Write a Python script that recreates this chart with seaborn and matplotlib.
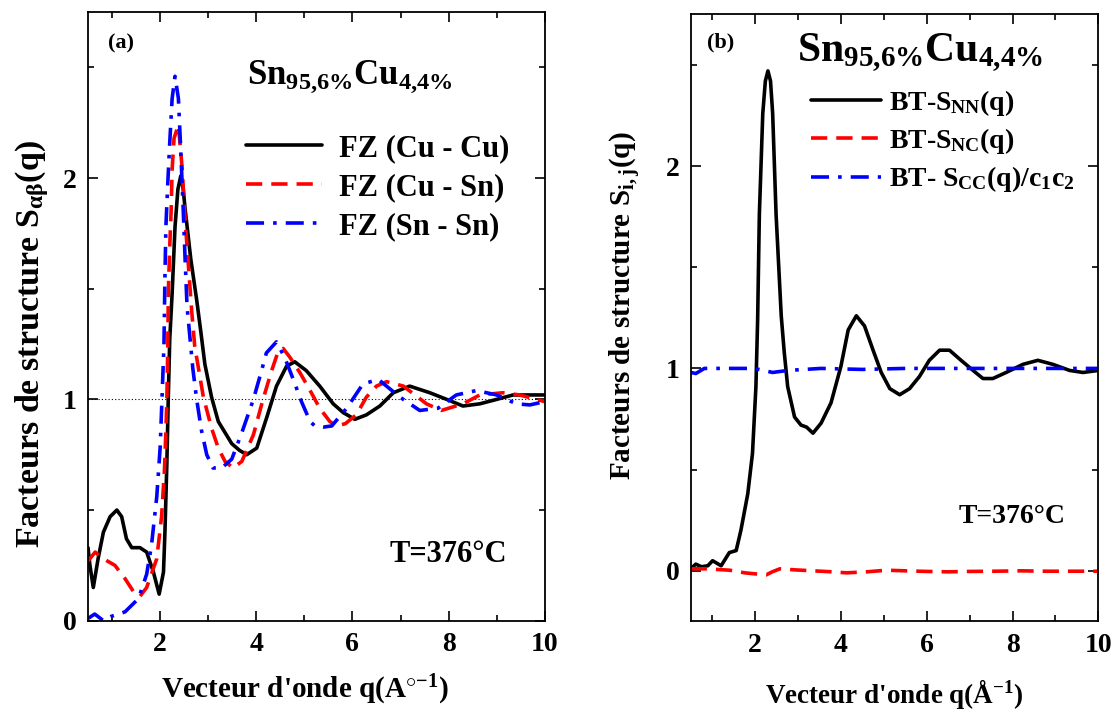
import numpy as np
import pandas as pd
import matplotlib
matplotlib.use("Agg")
import matplotlib.pyplot as plt
import seaborn as sns
from matplotlib.ticker import MultipleLocator

# ---- panel (a): Faber-Ziman partial structure factors ----
q_cucu = [0.5, 0.54, 0.61, 0.71, 0.82, 0.96, 1.1, 1.2, 1.3, 1.41, 1.58, 1.72, 1.86, 1.98,
          2.07, 2.1, 2.14, 2.17, 2.2, 2.25, 2.31, 2.37, 2.43, 2.48, 2.52, 2.64, 2.76,
          2.85, 2.93, 3.07, 3.21, 3.35, 3.49, 3.65, 3.8, 4.01, 4.22, 4.42, 4.63, 4.8,
          5.04, 5.32, 5.6, 5.81, 6.05, 6.29, 6.57, 6.85, 7.19, 7.61, 7.96, 8.3, 8.65,
          9.0, 9.34, 10.0]
s_cucu = [0.33, 0.25, 0.15, 0.28, 0.40, 0.47, 0.50, 0.47, 0.37, 0.33, 0.33, 0.31, 0.22, 0.12,
          0.22, 0.40, 0.71, 1.01, 1.27, 1.48, 1.78, 1.95, 2.01, 1.95, 1.86, 1.63, 1.45,
          1.30, 1.16, 1.01, 0.90, 0.85, 0.80, 0.77, 0.75, 0.78, 0.92, 1.06, 1.15, 1.17,
          1.13, 1.06, 0.98, 0.94, 0.91, 0.93, 0.97, 1.03, 1.06, 1.03, 1.00, 0.97, 0.98,
          1.00, 1.02, 1.02]

q_cusn = [0.5, 0.65, 0.75, 0.9, 1.06, 1.27, 1.45, 1.58, 1.72, 1.93, 2.03, 2.09, 2.12, 2.14,
          2.16, 2.17, 2.2, 2.23, 2.25, 2.29, 2.38, 2.46, 2.52, 2.59, 2.66, 2.72, 2.9,
          3.07, 3.21, 3.35, 3.52, 3.7, 3.94, 4.14, 4.32, 4.46, 4.56, 4.7, 4.91, 5.12,
          5.32, 5.53, 5.67, 5.85, 6.08, 6.29, 6.5, 6.71, 7.06, 7.54, 7.85, 8.3, 8.65,
          9.13, 9.48, 10.0]
s_cusn = [0.27, 0.31, 0.29, 0.27, 0.25, 0.19, 0.13, 0.11, 0.15, 0.28, 0.47, 0.68, 0.86, 1.00,
          1.24, 1.48, 1.69, 1.86, 2.04, 2.18, 2.24, 2.04, 1.81, 1.60, 1.39, 1.24, 1.01,
          0.87, 0.78, 0.72, 0.69, 0.72, 0.84, 1.00, 1.13, 1.22, 1.23, 1.19, 1.12, 1.04,
          0.96, 0.90, 0.88, 0.89, 0.93, 1.01, 1.06, 1.08, 1.06, 0.98, 0.95, 0.98, 1.02,
          1.03, 1.02, 0.99]

q_snsn = [0.5, 0.64, 0.82, 0.99, 1.27, 1.55, 1.72, 1.82, 1.93, 2.0, 2.04, 2.08, 2.1, 2.12,
          2.16, 2.2, 2.25, 2.31, 2.38, 2.43, 2.48, 2.52, 2.56, 2.62, 2.68, 2.76, 2.86,
          2.97, 3.1, 3.28, 3.49, 3.7, 3.94, 4.11, 4.21, 4.42, 4.59, 4.77, 4.94, 5.12,
          5.22, 5.4, 5.57, 5.88, 6.22, 6.54, 6.99, 7.4, 7.78, 8.16, 8.58, 9.0, 9.41,
          9.69, 10.0]
s_snsn = [0.01, 0.03, 0.00, 0.02, 0.04, 0.10, 0.21, 0.34, 0.56, 0.78, 1.01, 1.25, 1.55, 1.78,
          1.98, 2.16, 2.36, 2.46, 2.36, 2.12, 1.86, 1.63, 1.42, 1.28, 1.14, 1.00, 0.86,
          0.75, 0.69, 0.69, 0.73, 0.85, 1.00, 1.13, 1.21, 1.26, 1.19, 1.09, 0.99, 0.90,
          0.88, 0.875, 0.88, 0.96, 1.07, 1.09, 1.01, 0.95, 0.96, 1.02, 1.04, 1.02, 0.98,
          0.975, 0.99]

# ---- panel (b): Bhatia-Thornton structure factors ----
q_nn = [0.5, 0.62, 0.75, 0.9, 1.01, 1.21, 1.4, 1.56, 1.67, 1.83, 1.94, 2.02, 2.06, 2.1,
        2.18, 2.24, 2.3, 2.36, 2.41, 2.49, 2.61, 2.68, 2.76, 2.92, 3.07, 3.2, 3.35,
        3.54, 3.77, 4.0, 4.17, 4.36, 4.55, 4.75, 4.94, 5.14, 5.37, 5.6, 5.83, 6.06,
        6.3, 6.53, 6.8, 7.08, 7.31, 7.54, 7.85, 8.24, 8.59, 8.94, 9.33, 9.64, 10.0]
s_nn = [0.01, 0.033, 0.02, 0.025, 0.05, 0.025, 0.09, 0.10, 0.20, 0.38, 0.58, 0.91, 1.24, 1.76,
        2.26, 2.42, 2.47, 2.42, 2.26, 1.76, 1.26, 1.08, 0.91, 0.76, 0.72, 0.71, 0.68,
        0.73, 0.83, 1.01, 1.19, 1.26, 1.21, 1.09, 0.98, 0.90, 0.87, 0.90, 0.96, 1.04,
        1.09, 1.09, 1.04, 0.99, 0.95, 0.95, 0.98, 1.02, 1.04, 1.02, 0.99, 0.98, 0.99]

q_nc = [0.5, 0.87, 1.41, 1.76, 2.0, 2.26, 2.4, 2.58, 2.9, 3.35, 3.8, 4.13, 4.6, 5.06,
        5.5, 5.99, 6.5, 7.0, 7.6, 8.2, 8.8, 9.4, 10.0]
s_nc = [0.01, 0.01, 0.003, -0.01, -0.015, -0.02, -0.005, 0.01, 0.005, 0.0, -0.005, -0.01,
        -0.005, 0.003, 0.0, -0.003, -0.005, -0.003, -0.002, 0.0, -0.002, -0.002, -0.002]

q_cc = [0.5, 0.62, 0.82, 1.3, 1.98, 2.2, 2.41, 2.76, 3.54, 4.5, 5.5, 6.5, 7.5, 8.5, 10.0]
s_cc = [0.98, 0.975, 1.0, 1.0, 1.0, 0.99, 0.98, 0.99, 1.0, 0.995, 1.0, 1.0, 1.0, 1.0, 1.0]

sns.set_theme(style="ticks")
plt.rcParams['font.family'] = ['Liberation Serif', 'DejaVu Serif']
plt.rcParams['font.weight'] = 'bold'
plt.rcParams['axes.labelweight'] = 'bold'
plt.rcParams['text.color'] = 'black'
plt.rcParams['axes.labelcolor'] = 'black'
plt.rcParams['xtick.color'] = 'black'
plt.rcParams['ytick.color'] = 'black'
plt.rcParams['mathtext.fontset'] = 'custom'
plt.rcParams['mathtext.rm'] = 'Liberation Serif:bold'
plt.rcParams['mathtext.it'] = 'Liberation Serif:bold'
plt.rcParams['mathtext.bf'] = 'Liberation Serif:bold'
plt.rcParams['mathtext.default'] = 'rm'

fig = plt.figure(figsize=(11.14, 7.11), dpi=100)
ax1 = fig.add_axes([0.079, 0.127, 0.410, 0.856])
ax2 = fig.add_axes([0.620, 0.126, 0.366, 0.854])

lw = 2.6
dash = (0, (4.5, 2.5))
dashdot = (0, (5, 2.5, 1, 2.5))

# panel (a)
sns.lineplot(x=q_cucu, y=s_cucu, ax=ax1, color='black', lw=lw, sort=False, label='FZ (Cu - Cu)')
sns.lineplot(x=q_cusn, y=s_cusn, ax=ax1, color='red', lw=lw, sort=False, label='FZ (Cu - Sn)')
sns.lineplot(x=q_snsn, y=s_snsn, ax=ax1, color='blue', lw=lw, sort=False, label='FZ (Sn - Sn)')
ax1.lines[1].set_linestyle(dash)
ax1.lines[2].set_linestyle(dashdot)
ax1.axhline(1, color='black', lw=0.8, ls=(0, (1, 2)), zorder=0)

ax1.set_xlim(0.5, 10)
ax1.set_ylim(0, 2.75)
ax1.set_xlabel("Vecteur d'onde q(A$^{\\circ{-}1}$)", fontsize=21, labelpad=14)
ax1.set_ylabel("Facteurs de structure S$_{\\alpha\\beta}$(q)", fontsize=24.5)
ax1.xaxis.set_label_coords(0.475, -0.085)
ax1.yaxis.set_label_coords(-0.08, 0.455)
ax1.text(0.92, 2.61, '(a)', fontsize=16, fontweight='bold', ha='left', va='center')
ax1.text(5.95, 2.46, 'Sn$_{95{,}6\\%}$Cu$_{4{,}4\\%}$', fontsize=25, ha='center', va='center')
ax1.text(8.0, 0.3, 'T=376°C', fontsize=22, fontweight='bold', ha='center', va='center')
ax1.legend(loc='upper left', bbox_to_anchor=(0.285, 0.845), frameon=False,
           handlelength=2.5, handletextpad=0.55, labelspacing=0.33,
           prop={'weight': 'bold', 'size': 22})

# panel (b)
sns.lineplot(x=q_nn, y=s_nn, ax=ax2, color='black', lw=lw, sort=False, label='BT-S$_{NN}$(q)')
sns.lineplot(x=q_nc, y=s_nc, ax=ax2, color='red', lw=lw, sort=False, label='BT-S$_{NC}$(q)')
sns.lineplot(x=q_cc, y=s_cc, ax=ax2, color='blue', lw=lw, sort=False,
             label='BT- S$_{CC}$(q)/c$_1$c$_2$')
ax2.lines[1].set_linestyle(dash)
ax2.lines[2].set_linestyle(dashdot)

ax2.set_xlim(0.5, 10)
ax2.set_ylim(-0.25, 2.75)
ax2.set_xlabel("Vecteur d'onde q(Å$^{-1}$)", fontsize=19.5, labelpad=14)
ax2.set_ylabel("Facteurs de structure S$_{i,j}$(q)", fontsize=21)
ax2.yaxis.set_label_coords(-0.117, 0.52)
ax2.text(0.87, 2.61, '(b)', fontsize=16, fontweight='bold', ha='left', va='center')
ax2.text(5.85, 2.56, 'Sn$_{95{,}6\\%}$Cu$_{4{,}4\\%}$', fontsize=30, ha='center', va='center')
ax2.text(8.0, 0.27, 'T=376°C', fontsize=20, fontweight='bold', ha='center', va='center')
ax2.legend(loc='upper left', bbox_to_anchor=(0.235, 0.92), frameon=False,
           handlelength=2.5, handletextpad=0.3, labelspacing=0.3,
           prop={'weight': 'bold', 'size': 20})

for ax in (ax1, ax2):
    ax.xaxis.set_major_locator(MultipleLocator(2))
    ax.xaxis.set_minor_locator(MultipleLocator(1))
    ax.yaxis.set_major_locator(MultipleLocator(1))
    ax.yaxis.set_minor_locator(MultipleLocator(0.5))
    ax.tick_params(which='both', direction='in', top=True, right=True, width=1.2)
    ax.tick_params(which='major', length=7, labelsize=20, pad=8)
    ax.tick_params(which='minor', length=4)
    for lab in ax.get_xticklabels() + ax.get_yticklabels():
        lab.set_fontweight('bold')
    for sp in ax.spines.values():
        sp.set_linewidth(1.3)
        sp.set_color('black')

fig.savefig('out.png', dpi=100)
